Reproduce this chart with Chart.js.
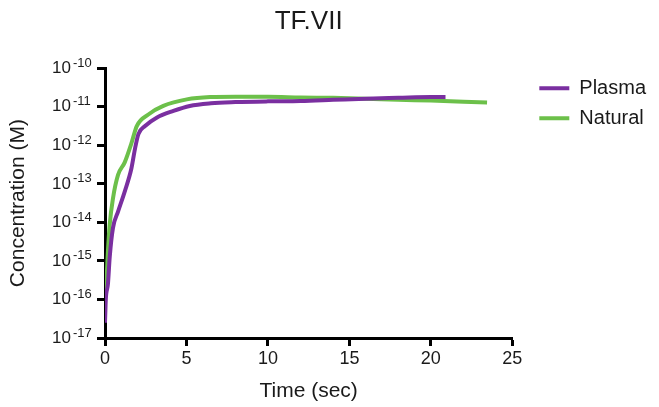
<!DOCTYPE html>
<html>
<head>
<meta charset="utf-8">
<script src="https://cdn.jsdelivr.net/npm/chart.js@4/dist/chart.umd.min.js"></script>
<style>
  html, body { margin: 0; padding: 0; background: #ffffff; }
  #wrap { width: 659px; height: 407px; position: relative; }
</style>
</head>
<body>
<div id="wrap"><canvas id="c" width="659" height="407"></canvas></div>
<script>
// Time points (sec) and concentrations (M) for each series
const plasmaTime = [0, 0.05, 0.18, 0.29, 0.49, 0.8, 1.21, 1.62, 1.84, 2.05, 2.46, 3.17, 4.2, 5.2, 6.5, 8, 10, 12, 14, 16, 18, 20, 20.9];
const plasmaConc = [2.5e-17, 1.0e-16, 2.5e-16, 1.26e-15, 7.2e-15, 1.9e-14, 6.3e-14, 2.5e-13, 8.1e-13, 1.95e-12, 3.16e-12, 5.2e-12, 7.8e-12, 1.05e-11, 1.23e-11, 1.32e-11, 1.38e-11, 1.41e-11, 1.51e-11, 1.62e-11, 1.70e-11, 1.78e-11, 1.78e-11];

const naturalTime = [0, 0.08, 0.18, 0.29, 0.49, 0.8, 1.21, 1.62, 1.95, 2.66, 3.58, 5.02, 6.45, 8, 10, 12, 14, 16, 18, 20, 22, 23.45];
const naturalConc = [1.26e-16, 2.5e-16, 1.8e-15, 8.9e-15, 4.2e-14, 1.7e-13, 3.6e-13, 1.12e-12, 3.16e-12, 6.3e-12, 1.05e-11, 1.55e-11, 1.78e-11, 1.82e-11, 1.82e-11, 1.74e-11, 1.70e-11, 1.62e-11, 1.51e-11, 1.45e-11, 1.35e-11, 1.29e-11];

// Axis ticks: x values, and powers of ten for the log axis (base and exponent drawn separately)
const xTicks = [0, 5, 10, 15, 20, 25];
const yExponents = [-17, -16, -15, -14, -13, -12, -11, -10];
const yTickBase = '10';

const PURPLE = '#7a2fa0';
const GREEN = '#6cc04a';
const TEXT = '#1a1a1a';
const FONT = "'Liberation Sans', Arial, sans-serif";
const EXP_FONT = "13px 'Liberation Sans', Arial, sans-serif";
const TICK_LEN = 8;
const EXP_WIDTH = 25;   // room kept right of "10" for the exponent
const LEGEND_SHIFT = 17;

function toPoints(xs, ys) {
  return xs.map((x, i) => ({ x: x, y: ys[i] }));
}

// Draws the raised exponent after each "10" tick label of the log axis
const exponentLabels = {
  id: 'exponentLabels',
  afterDraw(chart) {
    const scale = chart.scales.y;
    const ctx = chart.ctx;
    const x0 = scale.right - TICK_LEN - EXP_WIDTH + 1;
    ctx.save();
    ctx.font = EXP_FONT;
    ctx.fillStyle = TEXT;
    ctx.textAlign = 'left';
    ctx.textBaseline = 'middle';
    yExponents.forEach(e => {
      const py = scale.getPixelForValue(Number('1e' + e));
      ctx.fillText(String(e), x0, py - 5);
    });
    ctx.restore();
  }
};

// Leaves a gap between the plot area and the legend
const legendGap = {
  id: 'legendGap',
  afterLayout(chart) {
    if (chart.legend) {
      chart.legend.left += LEGEND_SHIFT;
      chart.legend.right += LEGEND_SHIFT;
    }
  }
};

new Chart(document.getElementById('c'), {
  type: 'line',
  data: {
    datasets: [
      {
        label: 'Plasma',
        data: toPoints(plasmaTime, plasmaConc),
        borderColor: PURPLE,
        backgroundColor: PURPLE,
        borderWidth: 4,
        pointRadius: 0,
        cubicInterpolationMode: 'monotone'
      },
      {
        label: 'Natural',
        data: toPoints(naturalTime, naturalConc),
        borderColor: GREEN,
        backgroundColor: GREEN,
        borderWidth: 4,
        pointRadius: 0,
        cubicInterpolationMode: 'monotone'
      }
    ]
  },
  options: {
    responsive: false,
    animation: false,
    layout: { padding: { left: 0, right: 20, top: 0, bottom: 0 } },
    plugins: {
      title: {
        display: true,
        text: 'TF.VII',
        fullSize: false,
        color: TEXT,
        font: { family: FONT, size: 26, weight: 'normal' },
        padding: { top: 6, bottom: 31 }
      },
      legend: {
        position: 'right',
        align: 'start',
        fullSize: false,
        labels: {
          color: TEXT,
          font: { family: FONT, size: 20 },
          boxWidth: 30,
          boxHeight: 4,
          padding: 10,
          // legend swatches as flat bars without an outline
          generateLabels: (chart) => Chart.defaults.plugins.legend.labels.generateLabels(chart)
            .map(item => Object.assign(item, { lineWidth: 0 }))
        }
      },
      tooltip: { enabled: false }
    },
    scales: {
      x: {
        type: 'linear',
        min: 0,
        max: 25,
        afterBuildTicks: (scale) => { scale.ticks = xTicks.map(v => ({ value: v })); },
        afterFit: (scale) => { scale.height = 69; },
        border: { display: true, color: '#000', width: 3 },
        grid: { display: true, drawOnChartArea: false, drawTicks: true, tickLength: TICK_LEN, tickWidth: 3, tickColor: '#000' },
        ticks: { color: TEXT, font: { family: FONT, size: 18 }, padding: 2, maxRotation: 0 },
        title: { display: true, text: 'Time (sec)', color: TEXT, font: { family: FONT, size: 21 }, padding: { top: 2, bottom: 3 } }
      },
      y: {
        type: 'logarithmic',
        min: 1e-17,
        max: 1e-10,
        afterBuildTicks: (scale) => { scale.ticks = yExponents.map(e => ({ value: Number('1e' + e) })); },
        afterFit: (scale) => { scale.width = 105; },
        border: { display: true, color: '#000', width: 3 },
        grid: { display: true, drawOnChartArea: false, drawTicks: true, tickLength: TICK_LEN, tickWidth: 3, tickColor: '#000' },
        ticks: {
          color: TEXT,
          font: { family: FONT, size: 17 },
          padding: EXP_WIDTH + 1,
          callback: () => yTickBase
        },
        title: { display: true, text: 'Concentration (M)', color: TEXT, font: { family: FONT, size: 21 }, padding: { top: 6, bottom: 2 } }
      }
    }
  },
  plugins: [exponentLabels, legendGap]
});
</script>
</body>
</html>
